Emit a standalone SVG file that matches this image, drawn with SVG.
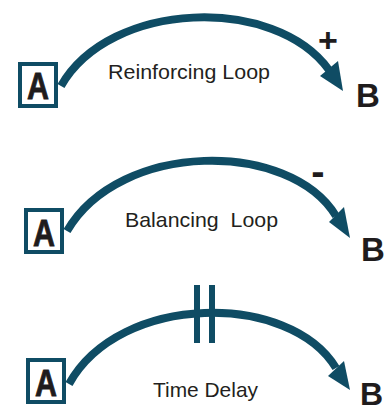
<svg xmlns="http://www.w3.org/2000/svg" width="387" height="407" viewBox="0 0 387 407">
  <style>
    .box { fill: #ffffff; stroke: #0f4c64; stroke-width: 4; }
    .letter { font-family: "Liberation Sans", Arial, sans-serif; font-weight: bold; fill: #1f1c1d; }
    .label { font-family: "Liberation Sans", Arial, sans-serif; font-size: 21px; fill: #231f20; white-space: pre; }
    .arc { fill: none; stroke: #0f4c64; stroke-width: 8; }
    .head { fill: #0f4c64; }
    .bar { fill: #0f4c64; }
  </style>
  <rect width="387" height="407" fill="#ffffff"/>

  <g id="connectors">
    <path class="arc" d="M61,86 C 110,0 275,-5 329,70"/>
    <polygon class="head" points="343,91 320,76 338,61"/>
    <path class="arc" d="M67,231 C 120,140 290,140 336,216"/>
    <polygon class="head" points="350,238 329,222 344,207"/>
    <path class="arc" d="M69,384 C 120,292 290,292 336,368"/>
    <polygon class="head" points="350,390 328,376 344,361"/>
    <rect class="bar" x="194" y="285" width="6" height="58"/>
    <rect class="bar" x="209" y="285" width="6" height="58"/>
  </g>

  <g id="loop1">
    <g id="a1">
      <rect class="box" x="20" y="64" width="36" height="42"/>
      <text class="letter" x="38" y="99" font-size="36" text-anchor="middle" textLength="22" lengthAdjust="spacingAndGlyphs" stroke="#1f1c1d" stroke-width="0.8">A</text>
    </g>
    <g id="b1">
      <text class="letter" x="356" y="107" font-size="33">B</text>
    </g>
    <text class="label" x="108" y="79" textLength="162" lengthAdjust="spacingAndGlyphs">Reinforcing Loop</text>
    <text class="letter" x="328" y="52" font-size="34" text-anchor="middle">+</text>
  </g>

  <g id="loop2">
    <g id="a2">
      <rect class="box" x="26" y="210" width="36" height="42"/>
      <text class="letter" x="44" y="246" font-size="36" text-anchor="middle" textLength="22" lengthAdjust="spacingAndGlyphs" stroke="#1f1c1d" stroke-width="0.8">A</text>
    </g>
    <g id="b2">
      <text class="letter" x="361" y="261" font-size="33">B</text>
    </g>
    <text class="label" x="125" y="227" textLength="153" lengthAdjust="spacingAndGlyphs">Balancing  Loop</text>
    <text class="letter" x="318" y="185" font-size="40" text-anchor="middle">-</text>
  </g>

  <g id="loop3">
    <g id="a3">
      <rect class="box" x="28" y="360" width="36" height="42"/>
      <text class="letter" x="46" y="396" font-size="36" text-anchor="middle" textLength="22" lengthAdjust="spacingAndGlyphs" stroke="#1f1c1d" stroke-width="0.8">A</text>
    </g>
    <g id="b3">
      <text class="letter" x="360" y="405" font-size="32">B</text>
    </g>
    <text class="label" x="153" y="397" textLength="105" lengthAdjust="spacingAndGlyphs">Time Delay</text>
  </g>
</svg>
